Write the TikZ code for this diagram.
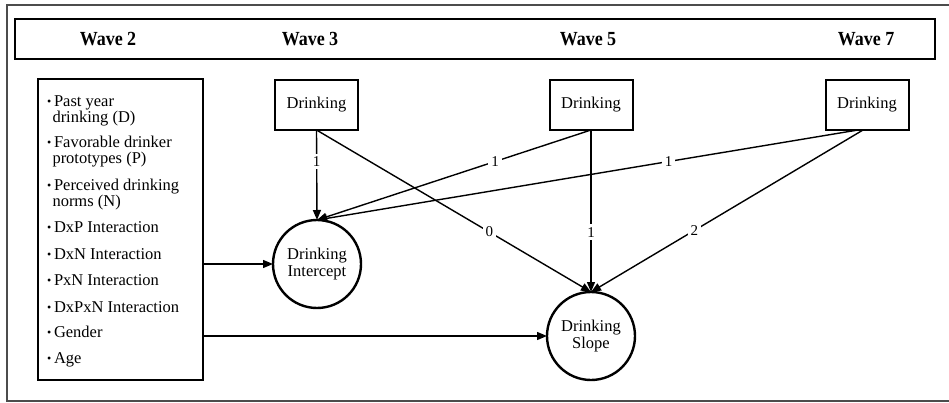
\documentclass[tikz,border=0pt]{standalone}
\usepackage{fontspec}
\setmainfont{Liberation Serif}
\usepackage{graphicx}
\usetikzlibrary{arrows.meta}
\begin{document}
\begin{tikzpicture}[x=1pt,y=-1pt,
  every node/.style={inner sep=0pt, outer sep=0pt},
  hdr/.style={font=\fontsize{20}{20}\selectfont\bfseries, anchor=base},
  obsbox/.style={draw, line width=2pt, minimum width=83pt, minimum height=50pt, font=\fontsize{16.5}{17}\selectfont},
  latent/.style={draw, circle, line width=2.4pt, minimum size=88pt, align=center, font=\fontsize{16.5}{17}\selectfont},
  item/.style={anchor=base west, font=\fontsize{16.5}{17}\selectfont},
  path/.style={line width=1.4pt, -{Triangle[length=10pt,width=8pt]}},
  lab/.style={fill=white, inner sep=3pt, font=\fontsize{15}{15}\selectfont}
]
\useasboundingbox (0,0) rectangle (949,403);
% outer frame
\draw[line width=1.2pt, black!70] (7,5) rectangle (955,401);
% header
\draw[line width=1.5pt] (15,19) rectangle (935,59);
\node[hdr] (h2) at (108,46) {\scalebox{0.9}[1]{Wave 2}};
\node[hdr] (h3) at (310,46) {\scalebox{0.9}[1]{Wave 3}};
\node[hdr] (h5) at (588,46) {\scalebox{0.9}[1]{Wave 5}};
\node[hdr] (h7) at (866,46) {\scalebox{0.9}[1]{Wave 7}};
% predictor box
\node[draw, line width=2pt, minimum width=165pt, minimum height=301pt, anchor=north west] (pred) at (38,79) {};
\newcommand{\bul}{\makebox[7pt][l]{\raisebox{1pt}{\fontsize{12}{12}\selectfont\textbullet}}}
\newcommand{\twoline}[2]{\bul\begin{tabular}[t]{@{}l@{}}#1\\[-1pt]\hspace*{-1.5pt}#2\end{tabular}}
\node[item] (i1) at (47,107) {\twoline{Past year}{drinking (D)}};
\node[item] (i2) at (47,148) {\twoline{Favorable drinker}{prototypes (P)}};
\node[item] (i3) at (47,191) {\twoline{Perceived drinking}{norms (N)}};
\node[item] (i4) at (47,233) {\bul DxP Interaction};
\node[item] (i5) at (47,259) {\bul DxN Interaction};
\node[item] (i6) at (47,285) {\bul PxN Interaction};
\node[item] (i7) at (47,312) {\bul DxPxN Interaction};
\node[item] (i8) at (47,337) {\bul Gender};
\node[item] (i9) at (47,363) {\bul Age};
% observed drinking
\node[obsbox] (w3) at (316.5,105) {Drinking};
\node[obsbox] (w5) at (591,105) {Drinking};
\node[obsbox] (w7) at (867,105) {Drinking};
% latent
\node[latent] (int) at (317,264) {Drinking\\Intercept};
\node[latent] (slp) at (591,336) {Drinking\\Slope};
% connectors
\coordinate (pa) at (pred.east |- int.west);
\coordinate (pb) at (pred.east |- slp.west);
\draw[path] (pa) -- (int.west);
\draw[path] (pb) -- (slp.west);
\draw[path] (w3.south) -- node[lab, pos=0.35] {1} (int.north);
\draw[path] (w5.south) -- node[lab, pos=0.35] {1} (int.north);
\draw[path] ([xshift=-9pt]w7.south) -- node[lab, pos=0.35] {1} (int.north);
\draw[path] (w3.south) -- node[lab, pos=0.63] {0} (slp.north);
\draw[path] (w5.south) -- node[lab, pos=0.63] {1} (slp.north);
\draw[path] ([xshift=-4pt]w7.south) -- node[lab, pos=0.62] {2} (slp.north);
\end{tikzpicture}
\end{document}
